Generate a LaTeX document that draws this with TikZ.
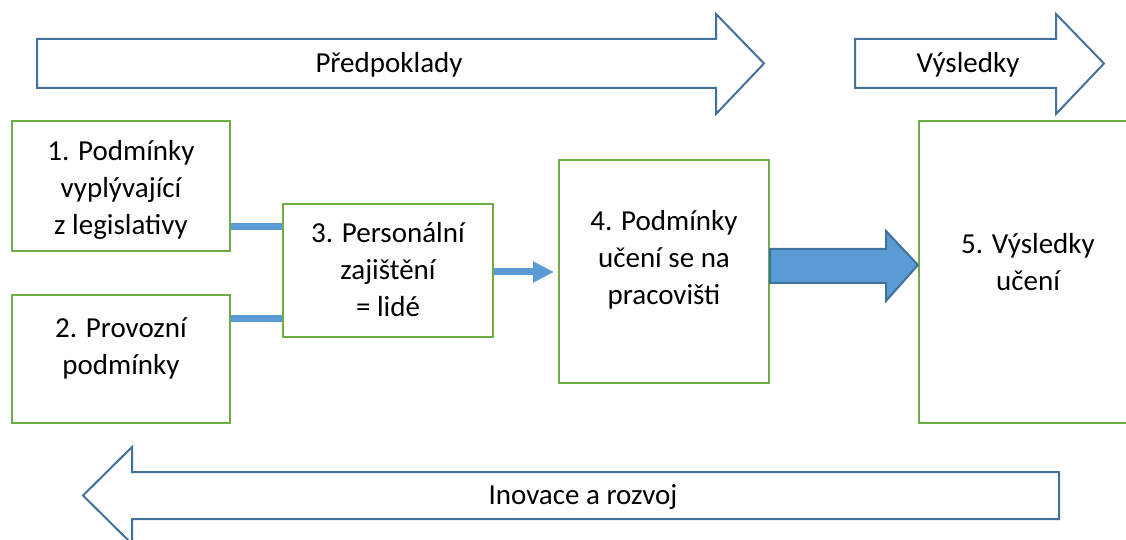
\documentclass[tikz,border=0pt]{standalone}
\usepackage{fontspec}
\setmainfont{Carlito}
\usetikzlibrary{arrows.meta}
\definecolor{boxgreen}{HTML}{70AD47}
\definecolor{arrowblue}{HTML}{41719C}
\definecolor{fillblue}{HTML}{5B9BD5}
\begin{document}
\begin{tikzpicture}[x=0.5pt,y=-0.5pt,
    box/.style={draw=boxgreen,line width=1pt,fill=white,inner sep=0pt},
    txt/.style={align=center,font=\fontsize{14.5}{18.5}\selectfont},
    bigarrow/.style={draw=arrowblue,line width=1pt},
    link/.style={fillblue,line width=3.5pt}]
    \useasboundingbox (0,0) rectangle (1126,540);
    % top arrows
    \draw[bigarrow] (37,39) -- (716,39) -- (716,14) -- (764,63.5) -- (716,114) -- (716,88) -- (37,88) -- cycle;
    \node[txt] (pred) at (389,65) {Předpoklady};
    \draw[bigarrow] (855,39) -- (1056,39) -- (1056,14) -- (1104,63.5) -- (1056,114) -- (1056,88) -- (855,88) -- cycle;
    \node[txt] (vysl) at (968,65) {Výsledky};
    % boxes
    \node[box,minimum width=109pt,minimum height=65pt] (b1) at (121,186) {};
    \node[box,minimum width=109pt,minimum height=64pt] (b2) at (121,359) {};
    \node[box,minimum width=105pt,minimum height=66.5pt] (b3) at (388,270.5) {};
    \node[box,minimum width=105pt,minimum height=111.5pt] (b4) at (664,271.5) {};
    \node[box,minimum width=130pt,minimum height=151pt] (b5) at (1049,272) {};
    \node[txt] (t1) at (121,190) {1. Podmínky\\vyplývající\\z legislativy};
    \node[txt] (t2) at (121,348) {2. Provozní\\podmínky};
    \node[txt] (t3) at (388,270) {3. Personální\\zajištění\\= lidé};
    \node[txt] (t4) at (664,260) {4. Podmínky\\učení se na\\pracovišti};
    \node[txt] (t5) at (1028,262) {5. Výsledky\\učení};
    % links
    \draw[link] (b1.east |- 0,227) -- (b3.west |- 0,227);
    \draw[link] (b2.east |- 0,318) -- (b3.west |- 0,318);
    \draw[link,-{Triangle[length=10.5pt,width=10pt]},shorten >=2pt] (b3.east |- 0,272) -- (b4.west |- 0,272);
    \draw[bigarrow,fill=fillblue] (b4.east |- 0,249) -- (886,249) -- (886,231) -- (b5.west |- 0,265) -- (886,301) -- (886,283) -- (b4.east |- 0,283) -- cycle;
    % bottom arrow
    \draw[bigarrow] (1059,472) -- (132,472) -- (132,447) -- (83,495.5) -- (132,544) -- (132,519) -- (1059,519) -- cycle;
    \node[txt] (inov) at (583,497) {Inovace a rozvoj};
\end{tikzpicture}
\end{document}
